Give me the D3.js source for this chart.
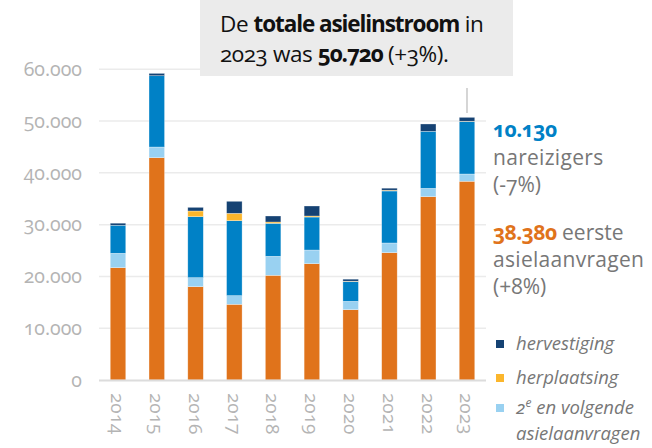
<!DOCTYPE html>
<html>
<head>
<meta charset="utf-8">
<script src="https://cdn.jsdelivr.net/npm/d3@7"></script>
<style>
  body { margin: 0; background: #fff; }
  svg text { font-family: 'Open Sans', 'Noto Sans', sans-serif; font-variant-numeric: oldstyle-nums; }
</style>
</head>
<body>
<script>
// data (asielinstroom per jaar)
const years = ['2014', '2015', '2016', '2017', '2018', '2019', '2020', '2021', '2022', '2023']
const eersteAanvragen = [21690, 42930, 18020, 14620, 20220, 22460, 13580, 24590, 35400, 38380]
const volgendeAanvragen = [2780, 2060, 1740, 1670, 3670, 2640, 1610, 1870, 1610, 1400]
const nareizigers = [5410, 13770, 11780, 14480, 6370, 6370, 3790, 10040, 11010, 10130]
const herplaatsing = [0, 0, 1100, 1420, 250, 200, 100, 150, 0, 60]
const hervestiging = [400, 450, 700, 2320, 1160, 1930, 390, 390, 1420, 750]
const yTicks = [0, 10000, 20000, 30000, 40000, 50000, 60000]

const keys = ['eerste', 'volgende', 'nareizigers', 'herplaatsing', 'hervestiging']
const colors = {
  eerste: '#e0731b',
  volgende: '#99d1f1',
  nareizigers: '#0081c6',
  herplaatsing: '#fbb62c',
  hervestiging: '#154273'
}

let width = 652
let height = 448

let svg = d3.select('body').append('svg')
  .attr('width', width)
  .attr('height', height)

let rows = years.map(function (y, i) {
  return {
    year: y,
    eerste: eersteAanvragen[i],
    volgende: volgendeAanvragen[i],
    nareizigers: nareizigers[i],
    herplaatsing: herplaatsing[i],
    hervestiging: hervestiging[i]
  }
})

let x = d3.scaleBand()
  .domain(years)
  .range([99, 486])
  .paddingInner(0.6)
  .paddingOuter(0.29)

let y = d3.scaleLinear()
  .domain([0, 60000])
  .range([380, 69.3])

let fmt = function (v) { return d3.format(',')(v).replace(/,/g, '.') }

// gridlines
svg.append('g')
  .selectAll('line')
  .data(yTicks.slice(1))
  .enter()
  .append('line')
  .attr('x1', 99)
  .attr('x2', 486)
  .attr('y1', function (d) { return y(d) })
  .attr('y2', function (d) { return y(d) })
  .attr('stroke', '#ebebeb')
  .attr('stroke-width', 1.5)

// y axis labels
let yAxis = svg.append('g')
  .attr('transform', 'translate(82,0)')
  .call(d3.axisLeft(y).tickValues(yTicks).tickSize(0).tickPadding(0).tickFormat(fmt))
yAxis.select('.domain').remove()
yAxis.selectAll('text')
  .attr('fill', '#b4b4b4')
  .attr('font-size', 19.5)
  .style('font-family', null)

// stacked bars
let stack = d3.stack().keys(keys)
let series = stack(rows)

svg.append('g')
  .selectAll('g')
  .data(series)
  .enter()
  .append('g')
  .attr('fill', function (d) { return colors[d.key] })
  .selectAll('rect')
  .data(function (d) { return d })
  .enter()
  .append('rect')
  .attr('x', function (d) { return x(d.data.year) })
  .attr('width', x.bandwidth())
  .attr('y', function (d) { return y(d[1]) })
  .attr('height', function (d) { return y(d[0]) - y(d[1]) })
  .attr('stroke', '#fff')
  .attr('stroke-width', 0.6)
  .attr('stroke-opacity', 0.5)

// baseline
svg.append('line')
  .attr('x1', 99).attr('x2', 486)
  .attr('y1', 380.5).attr('y2', 380.5)
  .attr('stroke', '#dcdcdc')
  .attr('stroke-width', 2)

// x axis labels, rotated
let xAxis = svg.append('g')
  .attr('transform', 'translate(0,381)')
  .call(d3.axisBottom(x).tickSize(0).tickPadding(0))
xAxis.select('.domain').remove()
xAxis.selectAll('text')
  .attr('fill', '#b4b4b4')
  .attr('font-size', 19)
  .style('font-family', null)
  .attr('transform', 'rotate(90)')
  .attr('x', 12)
  .attr('y', 0)
  .attr('dy', '0.35em')
  .style('text-anchor', 'start')

// annotation box
svg.append('rect')
  .attr('x', 200).attr('y', 0)
  .attr('width', 313).attr('height', 76)
  .attr('fill', '#ebebeb')

let t1 = svg.append('text').attr('x', 220).attr('y', 32).attr('font-size', 22.5)
  .attr('fill', '#111').attr('letter-spacing', -0.4)
t1.append('tspan').text('De ')
t1.append('tspan').attr('font-weight', 'bold').attr('letter-spacing', -1.1).text('totale asielinstroom')
t1.append('tspan').text(' in')
let t2 = svg.append('text').attr('x', 220).attr('y', 62).attr('font-size', 22.5)
  .attr('fill', '#111').attr('letter-spacing', -0.4)
t2.append('tspan').text('2023 was ')
t2.append('tspan').attr('font-weight', 'bold').attr('letter-spacing', -1.1).text('50.720')
t2.append('tspan').text(' (+3%).')

// leader line above 2023
svg.append('line')
  .attr('x1', x('2023') + x.bandwidth() / 2)
  .attr('x2', x('2023') + x.bandwidth() / 2)
  .attr('y1', 88).attr('y2', 113)
  .attr('stroke', '#c8c8c8')
  .attr('stroke-width', 1.5)

// right side annotations
let last = rows[rows.length - 1]
let ann = svg.append('g').attr('font-size', 21).attr('fill', '#777')
ann.append('text').attr('x', 493).attr('y', 137)
  .attr('fill', colors.nareizigers).attr('font-weight', 'bold').attr('letter-spacing', -0.5)
  .text(fmt(last.nareizigers))
ann.append('text').attr('x', 493).attr('y', 165).attr('letter-spacing', 0.3).text('nareizigers')
ann.append('text').attr('x', 493).attr('y', 192).text('(-7%)')
let a4 = ann.append('text').attr('x', 493).attr('y', 240)
a4.append('tspan').attr('fill', colors.eerste).attr('font-weight', 'bold').attr('letter-spacing', -0.5)
  .text(fmt(last.eerste))
a4.append('tspan').text(' eerste')
ann.append('text').attr('x', 493).attr('y', 267).attr('letter-spacing', 0.3).text('asielaanvragen')
ann.append('text').attr('x', 493).attr('y', 294).text('(+8%)')

// legend
let legendItems = [
  { key: 'hervestiging', y: 344 },
  { key: 'herplaatsing', y: 378 },
  { key: 'volgende', y: 408 }
]
let legend = svg.append('g')
legend.selectAll('rect')
  .data(legendItems)
  .enter()
  .append('rect')
  .attr('x', 496)
  .attr('y', function (d) { return d.y - 4 })
  .attr('width', 8)
  .attr('height', 8)
  .attr('fill', function (d) { return colors[d.key] })

let lt = legend.append('g').attr('font-size', 18.5).attr('font-style', 'italic').attr('fill', '#777')
lt.append('text').attr('x', 516).attr('y', 350).text('hervestiging')
lt.append('text').attr('x', 516).attr('y', 384).text('herplaatsing')
let l3 = lt.append('text').attr('x', 516).attr('y', 414)
l3.append('tspan').text('2')
l3.append('tspan').attr('font-size', 12).attr('dy', -7).text('e')
l3.append('tspan').attr('dy', 7).text(' en volgende')
lt.append('text').attr('x', 516).attr('y', 440).text('asielaanvragen')
</script>
</body>
</html>
